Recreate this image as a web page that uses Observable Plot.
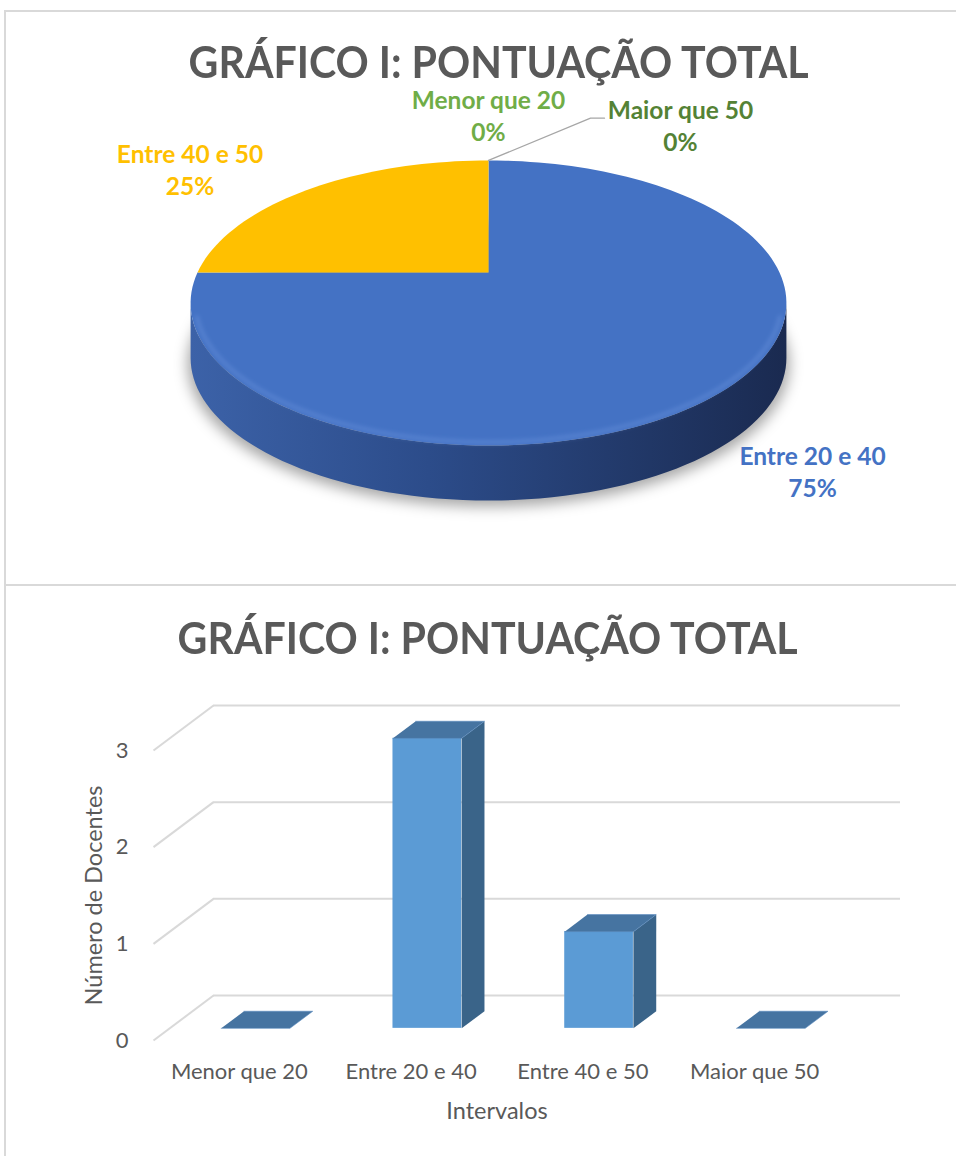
<!DOCTYPE html>
<html><head><meta charset="utf-8">
<script src="https://cdn.jsdelivr.net/npm/d3@7"></script>
<script src="https://cdn.jsdelivr.net/npm/@observablehq/plot@0.6"></script>
<style>
html,body{margin:0;padding:0;background:#fff;}
body{width:956px;height:1156px;overflow:hidden;position:relative;font-family:Lato,"Open Sans",sans-serif;}
.box{position:absolute;left:4px;width:1000px;border-left:2px solid #d9d9d9;border-top:2px solid #d9d9d9;box-sizing:border-box;}
#box1{top:10px;height:576px}
#box2{top:584px;height:620px}
.title{position:absolute;width:956px;text-align:center;font-weight:700;color:#595959;font-size:44px;line-height:44px;white-space:nowrap;}
.title span{display:inline-block;transform:scaleX(0.935);transform-origin:50% 50%;}
#t1{top:39px;left:21px}
#t2{top:615px;left:10px}
.chart{position:absolute;left:0}
#pie{top:60px}
#bar{top:680px}
</style></head>
<body>
<div class="box" id="box1"></div>
<div class="box" id="box2"></div>
<div class="title" id="t1"><span></span></div>
<div class="title" id="t2"><span></span></div>
<div class="chart" id="pie"></div>
<div class="chart" id="bar"></div>
<script>
// ---------- data ----------
const titleText = "GRÁFICO I: PONTUAÇÃO TOTAL";
const categories = ["Menor que 20", "Entre 20 e 40", "Entre 40 e 50", "Maior que 50"];
const counts = [0, 3, 1, 0];
const sliceColors = ["#70AD47", "#4472C4", "#FFC000", "#548235"];
const yTicks = [0, 1, 2, 3];
const xLabel = "Intervalos";
const yLabel = "Número de Docentes";

document.querySelector("#t1 span").textContent = titleText;
document.querySelector("#t2 span").textContent = titleText;

// ---------- pie (3D perspective) ----------
const W = 956, PH = 525;
const CX = 488, CY = 212, SX = 291, SY = 136; // pixel placement of the unit pie
const K = 0.214;              // perspective strength
const DEPTH = 55 / SY;        // thickness in Y units
const arcs = d3.pie().sort(null).value(d => d)(counts);
const total = d3.sum(counts);
function proj(phi, r = 1) {
  const u = r * Math.sin(phi), v = r * Math.cos(phi), w = 1 + K * v;
  return [u / w, v / w];
}
function arcPts(a0, a1, r = 1) {
  const n = Math.max(2, Math.ceil((a1 - a0) / (2 * Math.PI) * 180));
  return d3.range(n + 1).map(i => proj(a0 + (a1 - a0) * i / n, r));
}
const slices = arcs.filter(a => a.endAngle > a.startAngle);
const topRows = slices.flatMap(a =>
  [[0, 0], ...arcPts(a.startAngle, a.endAngle)].map(([X, Y]) => ({id: a.index, X, Y, fill: sliceColors[a.index]})));
const phiR = Math.acos(-K), phiL = 2 * Math.PI - phiR;
const sideRows = slices.flatMap(a => {
  const s = Math.max(a.startAngle, phiR), e = Math.min(a.endAngle, phiL);
  if (e <= s) return [];
  const top = arcPts(s, e);
  const bot = top.map(([X, Y]) => [X, Y - DEPTH]).reverse();
  return [...top, ...bot].map(([X, Y]) => ({id: a.index, X, Y}));
});
const shadowRows = arcPts(0, 2 * Math.PI).map(([X, Y]) => ({X: X * 1.01, Y: Y - DEPTH - 6 / SY}));
const rimRows = arcPts(phiR + 0.1, phiL - 0.1, 0.985).map(([X, Y]) => ({X, Y}));

// label layout (pixel nudges around the slice mid-angle anchor)
const labelNudge = {"Menor que 20": [0, -17], "Entre 20 e 40": [-9, 45], "Entre 40 e 50": [-75, 3], "Maior que 50": [192, -7]};
const labels = arcs.map(a => {
  const mid = (a.startAngle + a.endAngle) / 2;
  const [X, Y] = proj(mid, 1.3);
  const [dx, dy] = labelNudge[categories[a.index]];
  return {name: categories[a.index], pct: Math.round(a.value / total * 100) + "%",
    X: X + dx / SX, Y: Y - dy / SY, color: sliceColors[a.index]};
});
const maior = labels[3];
const leader = [proj(arcs[3].startAngle, 1), [maior.X - 90 / SX, maior.Y + 9 / SY], [maior.X - 76 / SX, maior.Y + 9 / SY]]
  .map(([X, Y]) => ({X, Y}));

const pieSvg = Plot.plot({
  width: W, height: PH, margin: 0,
  x: {domain: [-CX / SX, (W - CX) / SX], range: [0, W], axis: null},
  y: {domain: [(CY - PH) / SY, CY / SY], range: [PH, 0], axis: null},
  color: {type: "identity"},
  style: {fontFamily: "Lato, sans-serif", background: "transparent"},
  marks: [
    Plot.line(shadowRows, {x: "X", y: "Y", fill: "#000", fillOpacity: 0.35, stroke: "none"}),
    Plot.line(sideRows, {x: "X", y: "Y", z: "id", fill: "url(#pieSide)", stroke: "none"}),
    Plot.line(topRows, {x: "X", y: "Y", z: "id", fill: "fill", stroke: "none"}),
    Plot.line(rimRows, {x: "X", y: "Y", stroke: "#7FA6EC", strokeWidth: 4, strokeOpacity: 0.3}),
    Plot.line(leader, {x: "X", y: "Y", stroke: "#A6A6A6", strokeWidth: 1.3}),
    Plot.text(labels, {x: "X", y: "Y", text: "name", fill: "color", dy: -16, fontSize: 24.5, fontWeight: 700}),
    Plot.text(labels, {x: "X", y: "Y", text: "pct", fill: "color", dy: 16, fontSize: 24.5, fontWeight: 700})
  ]
});
{
  const defs = d3.select(pieSvg).insert("defs", ":first-child");
  const g = defs.append("linearGradient").attr("id", "pieSide").attr("x1", 0).attr("x2", 1).attr("y1", 0).attr("y2", 0);
  [["0%", "#3C62A8"], ["40%", "#2C4C8A"], ["100%", "#1A2A50"]].forEach(([o, c]) => g.append("stop").attr("offset", o).attr("stop-color", c));
  const f = defs.append("filter").attr("id", "pieBlur").attr("x", "-20%").attr("y", "-20%").attr("width", "140%").attr("height", "140%");
  f.append("feGaussianBlur").attr("stdDeviation", 7);
  const f2 = defs.append("filter").attr("id", "rimBlur");
  f2.append("feGaussianBlur").attr("stdDeviation", 2);
  const groups = pieSvg.querySelectorAll(":scope > g");
  groups[0].setAttribute("filter", "url(#pieBlur)");
  groups[3].setAttribute("filter", "url(#rimBlur)");
}
document.getElementById("pie").appendChild(pieSvg);

// ---------- 3D column chart ----------
const BH = 476, ML = 153, MR = 116, MT = 70, MB = 116;
const xU = (W - ML - MR) / categories.length, yU = (BH - MT - MB) / (yTicks.length - 1);
const DXu = 60 / xU, DYu = 45 / yU;     // back-wall depth in data units
const BW = 0.4, F0 = 0.27, FD = 0.38;    // bar width, bar front depth, bar thickness
const bars = counts.map((v, i) => ({i, v, x1: i - BW / 2 + F0 * DXu, x2: i + BW / 2 + F0 * DXu, y0: F0 * DYu, y1: v + F0 * DYu}));
const topFaces = bars.flatMap(b => [[b.x1, b.y1], [b.x2, b.y1], [b.x2 + FD * DXu, b.y1 + FD * DYu], [b.x1 + FD * DXu, b.y1 + FD * DYu]]
  .map(([x, y]) => ({id: b.i, x, y})));
const sideFaces = bars.filter(b => b.v > 0).flatMap(b => [[b.x2, b.y0], [b.x2, b.y1], [b.x2 + FD * DXu, b.y1 + FD * DYu], [b.x2 + FD * DXu, b.y0 + FD * DYu]]
  .map(([x, y]) => ({id: b.i, x, y})));

const barSvg = Plot.plot({
  width: W, height: BH, marginLeft: ML, marginRight: MR, marginTop: MT, marginBottom: MB,
  x: {domain: [-0.5, categories.length - 0.5], axis: null},
  y: {domain: [0, yTicks[yTicks.length - 1]], axis: null},
  style: {fontFamily: "Lato, sans-serif", background: "transparent", color: "#595959"},
  marks: [
    Plot.ruleY(yTicks, {y: d => d + DYu, x1: -0.5 + DXu, x2: categories.length - 0.5 + DXu, stroke: "#D9D9D9", strokeWidth: 2}),
    Plot.link(yTicks, {x1: -0.5, y1: d => d, x2: -0.5 + DXu, y2: d => d + DYu, stroke: "#D9D9D9", strokeWidth: 2}),
    Plot.rect(bars.filter(b => b.v > 0), {x1: "x1", x2: "x2", y1: "y0", y2: "y1", fill: "#5B9BD5"}),
    Plot.line(sideFaces, {x: "x", y: "y", z: "id", fill: "#3A6489", stroke: "none"}),
    Plot.line(topFaces, {x: "x", y: "y", z: "id", fill: "#4674A1", stroke: "#5B8CC0", strokeWidth: 0.6}),
    Plot.axisY({ticks: yTicks, tickSize: 0, tickPadding: 25, fontSize: 22, label: null, tickFormat: d => String(d)}),
    Plot.axisX({ticks: d3.range(categories.length), tickSize: 0, tickPadding: 23, fontSize: 22, label: null, tickFormat: i => categories[i]}),
    Plot.text([yLabel], {frameAnchor: "left", dx: -59, rotate: -90, textAnchor: "middle", lineAnchor: "middle", fontSize: 23.5, fill: "#595959"}),
    Plot.text([xLabel], {frameAnchor: "bottom", dy: 71, textAnchor: "middle", lineAnchor: "middle", fontSize: 23.5, fill: "#595959"})
  ]
});
document.getElementById("bar").appendChild(barSvg);
</script>
</body></html>
